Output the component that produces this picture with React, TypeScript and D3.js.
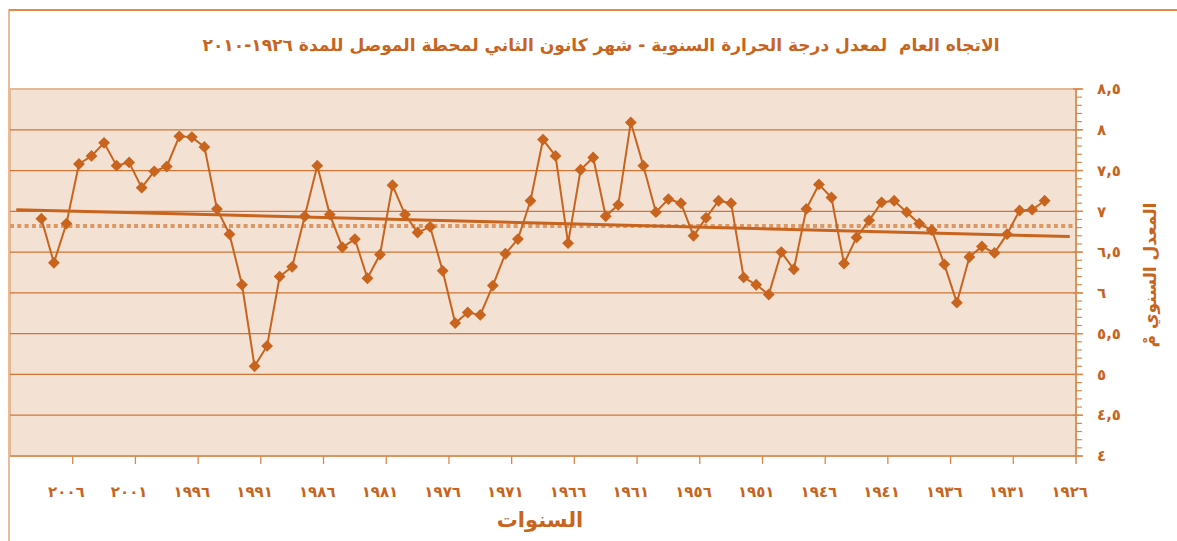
import * as d3 from 'd3'

// السنوات من 2010 (يسار) الى 1926 (يمين)
const categories = d3.range(2010, 1925, -1)
// السنوات التي تحمل قيم (من اليسار)
const years = d3.range(2008, 1927, -1)
const values = [
  6.91, 6.37, 6.85, 7.58, 7.68, 7.84, 7.56, 7.60, 7.29, 7.49,
  7.55, 7.92, 7.91, 7.79, 7.03, 6.72, 6.10, 5.10, 5.35, 6.20,
  6.32, 6.94, 7.56, 6.96, 6.56, 6.66, 6.18, 6.47, 7.32, 6.96,
  6.74, 6.81, 6.27, 5.63, 5.76, 5.73, 6.09, 6.48, 6.66, 7.13,
  7.88, 7.68, 6.61, 7.51, 7.66, 6.94, 7.08, 8.09, 7.56, 6.99,
  7.15, 7.10, 6.70, 6.92, 7.13, 7.10, 6.19, 6.10, 5.98, 6.50,
  6.29, 7.03, 7.33, 7.17, 6.36, 6.68, 6.89, 7.11, 7.13, 6.99,
  6.85, 6.77, 6.35, 5.88, 6.44, 6.57, 6.49, 6.72, 7.01, 7.02,
  7.13,
]
const trendYears = [2010, 1926]
const trendValues = [7.02, 6.69]
const meanValue = 6.82
const labelYears = d3.range(1926, 2010, 5)
const yTicks = [4, 4.5, 5, 5.5, 6, 6.5, 7, 7.5, 8, 8.5]

const title = 'الاتجاه العام  لمعدل درجة الحرارة السنوية - شهر كانون الثاني لمحطة الموصل للمدة ١٩٢٦-٢٠١٠'
const xTitle = 'السنوات'
const yTitle = 'المعدل السنوي مْ'

const toArabic = (s: string) => s.replace(/[0-9]/g, d => '٠١٢٣٤٥٦٧٨٩'[+d])
const fmtY = (v: number) => toArabic(String(v).replace('.', ','))

const W = 1177
const H = 541
const left = 10, right = 1076, top = 89, bottom = 456

const main = '#c8641e'
const font = 'DejaVu Sans, sans-serif'

export default function App() {
  const x = d3.scaleBand<number>().domain(categories).range([left, right])
  const cx = (yr: number) => (x(yr) ?? 0) + x.bandwidth() / 2
  const y = d3.scaleLinear().domain([4, 8.5]).range([bottom, top])

  const pts = years.map((yr, i) => [cx(yr), y(values[i])] as [number, number])
  const line = d3.line()(pts) ?? ''
  const diamond = d3.symbol(d3.symbolSquare, 70)() ?? ''
  const minor = d3.range(40, 86).map(d => d / 10)
  const tickYears = d3.range(1930, 2010, 5)

  return (
    <div style={{ position: 'absolute', left: 0, top: 0 }}>
      <svg width={W} height={H} style={{ display: 'block', background: '#fff' }}>
        {/* chart frame */}
        <rect x={9} y={10} width={W + 10} height={H + 10} fill="none" stroke="#e3a572" strokeWidth={1.5} />
        <line x1={9} x2={W} y1={10} y2={10} stroke="#e07a2a" strokeWidth={1.5} />

        <text x={601} y={51} textAnchor="middle" direction="rtl" fontFamily={font} fontWeight="bold"
          fontSize={17} textLength={797} lengthAdjust="spacingAndGlyphs" style={{ whiteSpace: 'pre' }}
          fill={main}>{title}</text>

        {/* plot area */}
        <rect x={left} y={top} width={right - left} height={bottom - top} fill="#f3e1d3" stroke="#e6b996" strokeWidth={2} />
        {yTicks.filter(v => v > 4 && v < 8.5).map(v => (
          <line key={v} x1={left} x2={right} y1={y(v)} y2={y(v)} stroke="#cf7636" strokeWidth={1.3} />
        ))}

        {/* right axis */}
        <line x1={right} x2={right} y1={top} y2={bottom + 8} stroke="#d9884a" strokeWidth={1.5} />
        {minor.map(v => (
          <line key={v} x1={right} x2={right + 6} y1={y(v)} y2={y(v)} stroke="#d9884a" strokeWidth={1.2} />
        ))}
        {yTicks.map(v => (
          <g key={v}>
            <line x1={right - 3} x2={right + 7} y1={y(v)} y2={y(v)} stroke="#d9884a" strokeWidth={1.5} />
            <text x={1097} y={y(v)} dy="0.35em" fontFamily={font} fontWeight="bold" fontSize={15}
              fill={main}>{fmtY(v)}</text>
          </g>
        ))}
        <text transform={`translate(1150,275) rotate(-90)`} textAnchor="middle" direction="rtl" dy="0.35em"
          fontFamily={font} fontWeight="bold" fontSize={17} fill={main}>{yTitle}</text>

        {/* bottom axis */}
        <line x1={left} x2={right} y1={bottom} y2={bottom} stroke="#d9884a" strokeWidth={1.5} />
        {tickYears.map(yr => (
          <line key={yr} x1={x(yr)} x2={x(yr)} y1={bottom} y2={bottom + 8} stroke="#d9884a" strokeWidth={1.3} />
        ))}
        {labelYears.map(yr => (
          <text key={yr} x={cx(yr)} y={497} textAnchor="middle" fontFamily={font} fontWeight="bold"
            fontSize={15} letterSpacing={2.5} fill={main}>{toArabic(String(yr))}</text>
        ))}
        <text x={540} y={527} textAnchor="middle" direction="rtl" fontFamily={font} fontWeight="bold"
          fontSize={21} fill={main}>{xTitle}</text>

        {/* mean + trend */}
        <line x1={left} x2={right} y1={y(meanValue)} y2={y(meanValue)} stroke="#db9864"
          strokeWidth={4} strokeDasharray="4,3.3" />
        <line x1={cx(trendYears[0])} x2={cx(trendYears[1])} y1={y(trendValues[0])} y2={y(trendValues[1])}
          stroke={main} strokeWidth={3} />

        {/* series */}
        <path d={line} fill="none" stroke={main} strokeWidth={2} />
        {pts.map((p, i) => (
          <path key={i} d={diamond} transform={`translate(${p[0]},${p[1]}) rotate(45)`} fill={main} />
        ))}
      </svg>
    </div>
  )
}
